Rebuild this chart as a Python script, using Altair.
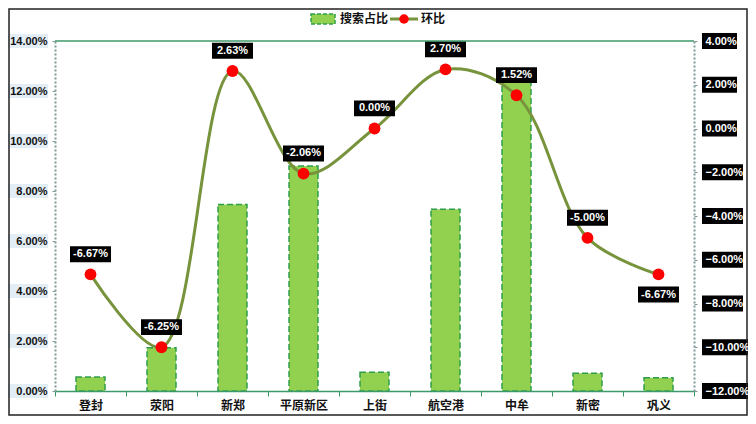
import altair as alt
import pandas as pd

# ---- data ----
cats = ['登封', '荥阳', '新郑', '平原新区', '上街', '航空港', '中牟', '新密', '巩义']
share = [0.56, 1.73, 7.46, 9.0, 0.75, 7.27, 12.72, 0.71, 0.53]          # 搜索占比 (%)
mom = [-6.67, -10.0, 2.63, -2.06, 0.00, 2.70, 1.52, -5.00, -6.67]      # 环比 plotted position (%)
mom_labels = ['-6.67%', '-6.25%', '2.63%', '-2.06%', '0.00%', '2.70%', '1.52%', '-5.00%', '-6.67%']
left_ticks = [0, 2, 4, 6, 8, 10, 12, 14]
right_ticks = [4, 2, 0, -2, -4, -6, -8, -10, -12]

W, H = 639, 350
NUM_FONT = 'Liberation Sans'
CJK_FONT = 'Noto Sans CJK SC'
GREEN_BAR = '#92d050'
GREEN_EDGE = '#2f9e4a'
OLIVE = '#77933c'
AXIS_GREEN = '#3c9a6a'
DOT_AXIS = '#7c9a96'

df = pd.DataFrame({'cat': cats, 'share': share, 'mom': mom, 'lab': mom_labels})
df_l = pd.DataFrame({'v': left_ticks})
df_r = pd.DataFrame({'v': right_ticks})
one = pd.DataFrame({'k': [0]})

xenc = alt.X('cat:N', sort=cats,
             scale=alt.Scale(paddingInner=0, paddingOuter=0),
             axis=alt.Axis(title=None, labelAngle=0, labelFont=CJK_FONT, labelFontSize=12,
                           labelFontWeight='bold', labelColor='#111', domainColor=AXIS_GREEN,
                           domainWidth=1.5, tickColor=AXIS_GREEN, tickSize=5, tickBand='extent',
                           labelPadding=4, zindex=1))

left_scale = alt.Scale(domain=[0, 14], nice=False, zero=False)
left_axis = alt.Axis(title=None, orient='left', values=left_ticks, grid=False,
                     labelExpr="format(datum.value, '.2f') + '%'",
                     labelFont=NUM_FONT, labelFontSize=11, labelFontWeight='bold', labelColor='#111',
                     domainColor=DOT_AXIS, domainDash=[2, 2], domainWidth=2,
                     tickColor=DOT_AXIS, tickSize=3, labelPadding=5, zindex=1)

right_scale = alt.Scale(domain=[-12, 4], nice=False, zero=False)
right_axis = alt.Axis(title=None, orient='right', values=right_ticks, grid=False,
                      labelExpr="format(datum.value, '.2f') + '%'",
                      labelFont=NUM_FONT, labelFontSize=11, labelFontWeight='bold', labelColor='white',
                      domainColor=DOT_AXIS, domainDash=[2, 2], domainWidth=2,
                      tickColor=DOT_AXIS, tickSize=3, labelPadding=8, zindex=1)

# ---- left (bar) layer ----
lbox = alt.Chart(df_l).mark_point(shape='M-1,-0.35L1,-0.35L1,0.35L-1,0.35Z', size=40 ** 2,
                                  filled=True, color='#e2edf5', opacity=1, strokeWidth=0).encode(
    x=alt.value(-27),
    y=alt.Y('v:Q', scale=left_scale, axis=left_axis))

bars = alt.Chart(df).mark_bar(width=29, color=GREEN_BAR, stroke=GREEN_EDGE,
                              strokeDash=[6, 3], strokeWidth=1.5).encode(
    x=xenc, y=alt.Y('share:Q', scale=left_scale, axis=left_axis))

left_layer = alt.layer(lbox, bars)

# ---- right (line) layer ----
yright = alt.Y('mom:Q', scale=right_scale, axis=right_axis)

line = alt.Chart(df).mark_line(interpolate='catmull-rom', color=OLIVE, strokeWidth=3).encode(
    x=xenc, y=yright)
pts = alt.Chart(df).mark_point(filled=True, color='#ff0000', size=140, opacity=1, shape='circle').encode(
    x=xenc, y=yright)

lab_base = alt.Chart(df).transform_calculate(
    ly="datum.cat == '巩义' ? datum.mom - 0.92 : datum.mom + 0.92")
yl = alt.Y('ly:Q', scale=right_scale, axis=right_axis)
labox = lab_base.mark_point(shape='M-1,-0.39L1,-0.39L1,0.39L-1,0.39Z', size=41 ** 2,
                            filled=True, color='black', opacity=1, strokeWidth=0).encode(x=xenc, y=yl)
labtxt = lab_base.mark_text(color='white', font=NUM_FONT, fontSize=11, fontWeight='bold',
                            baseline='middle', align='center').encode(x=xenc, y=yl, text='lab:N')

# black boxes behind the right-axis labels (axis labels drawn on top in white)
rbox = alt.Chart(df_r).transform_calculate(
    txt="format(datum.v, '.2f') + '%'",
    top='datum.v + 0.37', bot='datum.v - 0.37',
    xr=f'{W + 12} + length(datum.txt) * 6 + 1'
).mark_rect(color='black', opacity=1).encode(
    x=alt.value(W + 8),
    x2=alt.X2('xr:Q'),
    y=alt.Y('top:Q', scale=right_scale, axis=right_axis),
    y2='bot:Q')
# x2 needs pixel values: use separate encoding with scale none
rbox = alt.Chart(df_r).transform_calculate(
    txt="format(datum.v, '.2f') + '%'",
    top='datum.v + 0.37', bot='datum.v - 0.37',
    xl=f'{W + 8}',
    xr=f'{W + 12} + length(datum.txt) * 6 + 1'
).mark_rect(color='black', opacity=1).encode(
    x=alt.X('xl:Q', scale=None),
    x2='xr:Q',
    y=alt.Y('top:Q', scale=right_scale, axis=right_axis),
    y2='bot:Q')

toprule = alt.Chart(one).mark_rule(color=AXIS_GREEN, strokeWidth=1.5).encode(
    x=alt.value(0), x2=alt.value(W), y=alt.value(0))

border = alt.Chart(one).mark_rect(fillOpacity=0, stroke='#222', strokeWidth=1.5).encode(
    x=alt.value(-46), x2=alt.value(W + 53), y=alt.value(-32), y2=alt.value(H + 24))

# ---- manual legend ----
leg_sw = alt.Chart(one).mark_rect(color=GREEN_BAR, stroke=GREEN_EDGE, strokeDash=[4, 2], strokeWidth=1.5).encode(
    x=alt.value(256), x2=alt.value(280), y=alt.value(-27), y2=alt.value(-17))
leg_t1 = alt.Chart(one).mark_text(align='left', baseline='middle', font=CJK_FONT, fontSize=12,
                                  fontWeight='bold', color='#111').encode(
    x=alt.value(285), y=alt.value(-22), text=alt.value('搜索占比'))
leg_ln = alt.Chart(one).mark_rule(color=OLIVE, strokeWidth=3).encode(
    x=alt.value(335), x2=alt.value(363), y=alt.value(-22))
leg_pt = alt.Chart(one).mark_point(filled=True, color='#ff0000', size=90, opacity=1).encode(
    x=alt.value(349), y=alt.value(-22))
leg_t2 = alt.Chart(one).mark_text(align='left', baseline='middle', font=CJK_FONT, fontSize=12,
                                  fontWeight='bold', color='#111').encode(
    x=alt.value(366), y=alt.value(-22), text=alt.value('环比'))

right_layer = alt.layer(line, pts, labox, labtxt, rbox, toprule, border,
                        leg_sw, leg_t1, leg_ln, leg_pt, leg_t2)

chart = alt.layer(left_layer, right_layer).resolve_scale(y='independent').properties(
    width=W, height=H,
    padding={'left': 47, 'top': 33, 'right': 54, 'bottom': 25},
    autosize='none',
    background='white',
).configure_view(stroke=None)

chart.save('out.html', embed_options={'renderer': 'svg', 'actions': False})
